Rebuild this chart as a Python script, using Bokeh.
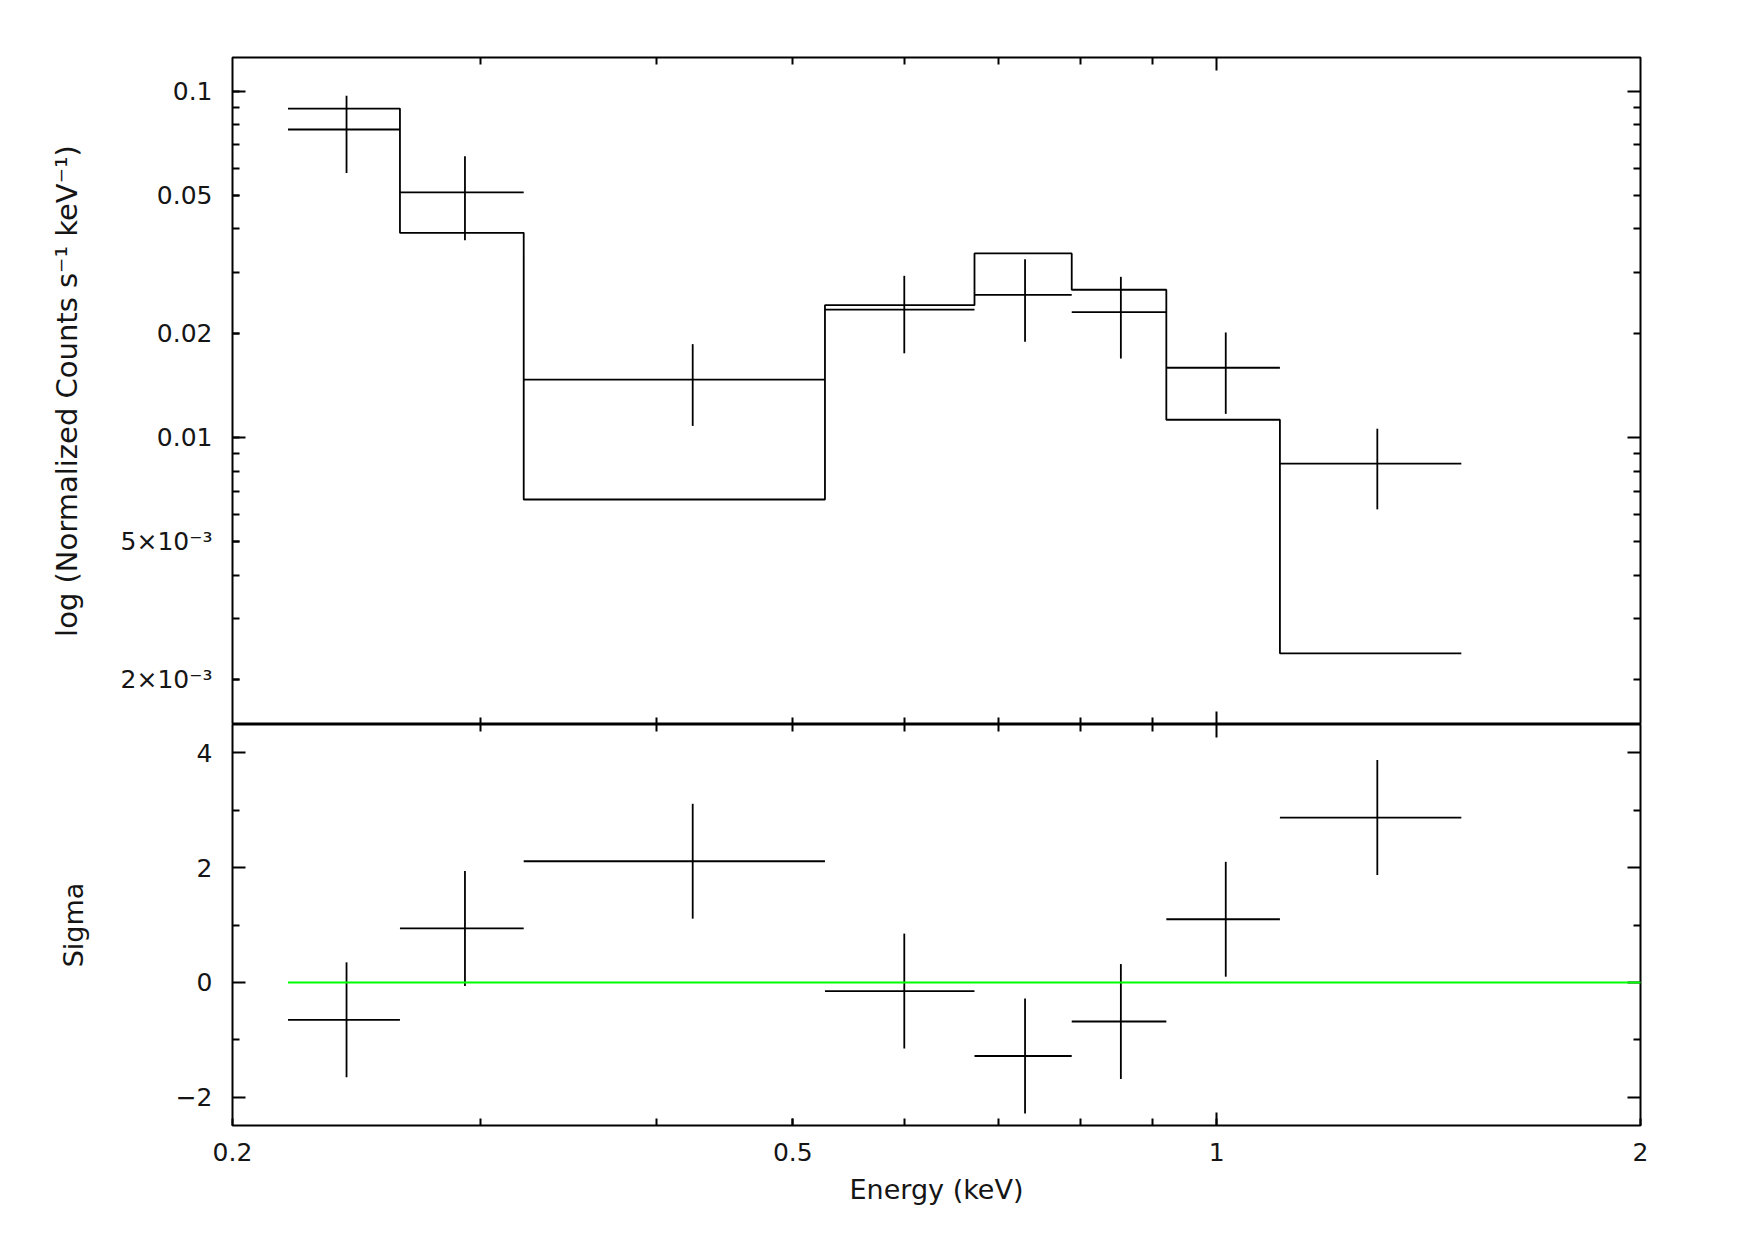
from bokeh.plotting import figure
from bokeh.models import LogAxis, LinearAxis, FixedTicker, Range1d, CustomJSTickFormatter
from bokeh.layouts import column
from bokeh.embed import file_html
from bokeh.resources import INLINE

# ---------------- data ----------------
e_lo = [0.219, 0.263, 0.322, 0.527, 0.673, 0.789, 0.921, 1.109]
e_hi = [0.263, 0.322, 0.527, 0.673, 0.789, 0.921, 1.109, 1.492]
counts = [0.0775, 0.0510, 0.0147, 0.0234, 0.0258, 0.0230, 0.0159, 0.0084]
count_err = [0.0195, 0.0139, 0.0039, 0.0059, 0.0069, 0.0061, 0.0042, 0.0022]
model = [0.0891, 0.0390, 0.00662, 0.0241, 0.0340, 0.0267, 0.01125, 0.00238]
sigma = [-0.65, 0.94, 2.11, -0.15, -1.28, -0.68, 1.10, 2.87]
sigma_err = [1.0, 1.0, 1.0, 1.0, 1.0, 1.0, 1.0, 1.0]

# tick positions / labels
x_ticks = [0.2, 0.5, 1.0, 2.0]
x_labels = ["0.2", "0.5", "1", "2"]
x_decade = [1.0]
x_minor = [0.3, 0.4, 0.5, 0.6, 0.7, 0.8, 0.9]
y_ticks = [0.002, 0.005, 0.01, 0.02, 0.05, 0.1]
y_labels = ["2×10⁻³", "5×10⁻³", "0.01", "0.02", "0.05", "0.1"]
y_decade = [0.01, 0.1]
y_minor = [0.002, 0.003, 0.004, 0.005, 0.006, 0.007, 0.008, 0.009,
           0.02, 0.03, 0.04, 0.05, 0.06, 0.07, 0.08, 0.09]
s_ticks = [-2, 0, 2, 4]
s_labels = ["−2", "0", "2", "4"]
s_minor = [-1, 1, 3]

X_MIN, X_MAX = 0.2, 2.0
Y1_MIN, Y1_MAX = 0.001483, 0.1251
Y2_MIN, Y2_MAX = -2.49, 4.49

FONT = "DejaVu Sans"
TXT = "#151515"
LONG, SHORT = 13, 7

# derived
e_mid = [(a + b) / 2 for a, b in zip(e_lo, e_hi)]
c_lo = [c - e for c, e in zip(counts, count_err)]
c_hi = [c + e for c, e in zip(counts, count_err)]
s_lo = [s - e for s, e in zip(sigma, sigma_err)]
s_hi = [s + e for s, e in zip(sigma, sigma_err)]
step_x = e_lo + [e_hi[-1]]
step_y = model + [model[-1]]


def fmt(tks=None, lbls=None):
    if tks is None:
        return CustomJSTickFormatter(code="return '';")
    return CustomJSTickFormatter(
        args=dict(tk=tks, lb=lbls),
        code="""
        for (let i = 0; i < tk.length; i++) {
            if (Math.abs(tk[i] - tick) <= 1e-6 * Math.max(1, Math.abs(tk[i]))) return lb[i];
        }
        return '';
        """)


def make_axis(cls, tks, minor, major_len, minor_len, fixed=None, labels=None):
    ax = cls(ticker=FixedTicker(ticks=tks, minor_ticks=minor))
    ax.major_tick_in = major_len
    ax.major_tick_out = 0
    ax.minor_tick_in = minor_len
    ax.minor_tick_out = 0
    ax.major_tick_line_width = 2
    ax.minor_tick_line_width = 2
    ax.major_tick_line_color = "black"
    ax.minor_tick_line_color = "black"
    ax.axis_line_color = None
    if fixed is not None:
        ax.fixed_location = fixed
    if labels is None:
        ax.formatter = fmt()
        ax.major_label_standoff = 0
    else:
        ax.formatter = fmt(tks, labels)
        ax.major_label_text_font = FONT
        ax.major_label_text_font_size = "25px"
        ax.major_label_text_color = TXT
    ax.axis_label_text_font = FONT
    ax.axis_label_text_font_size = "27px"
    ax.axis_label_text_font_style = "normal"
    ax.axis_label_text_color = TXT
    return ax


x_range = Range1d(X_MIN, X_MAX)

# ---------------- top panel ----------------
p1 = figure(width=1700, height=724, x_axis_type="log", y_axis_type="log",
            x_range=x_range, y_range=Range1d(Y1_MIN, Y1_MAX),
            x_axis_location=None, y_axis_location=None,
            min_border_left=232, min_border_right=60, min_border_top=57, min_border_bottom=0,
            output_backend="svg", toolbar_location=None)
p1.grid.visible = False
p1.outline_line_color = "black"
p1.outline_line_width = 2

ax = make_axis(LogAxis, y_ticks, y_minor, SHORT, SHORT, labels=y_labels)
ax.major_label_standoff = 20
ax.axis_label = "log (Normalized Counts s⁻¹ keV⁻¹)"
ax.axis_label_standoff = 34
ax.axis_label_text_font_size = "29px"
p1.add_layout(ax, "left")
p1.add_layout(make_axis(LogAxis, y_decade, [], LONG, SHORT, fixed=X_MIN), "left")
p1.add_layout(make_axis(LogAxis, y_decade, y_minor, LONG, SHORT, fixed=X_MAX), "right")
p1.add_layout(make_axis(LogAxis, x_decade, x_minor, LONG, SHORT, fixed=Y1_MIN), "below")
p1.add_layout(make_axis(LogAxis, x_decade, x_minor, LONG, SHORT, fixed=Y1_MAX), "above")

p1.step(x=step_x, y=step_y, mode="after", line_color="black", line_width=1.8)
p1.segment(x0=e_lo, y0=counts, x1=e_hi, y1=counts, line_color="black", line_width=1.8)
p1.segment(x0=e_mid, y0=c_lo, x1=e_mid, y1=c_hi, line_color="black", line_width=1.8)

# ---------------- bottom panel ----------------
p2 = figure(width=1700, height=501, x_axis_type="log",
            x_range=x_range, y_range=Range1d(Y2_MIN, Y2_MAX),
            x_axis_location=None, y_axis_location=None,
            min_border_left=232, min_border_right=60, min_border_top=0, min_border_bottom=100,
            output_backend="svg", toolbar_location=None)
p2.grid.visible = False
p2.outline_line_color = "black"
p2.outline_line_width = 2

ax = make_axis(LinearAxis, s_ticks, s_minor, LONG, SHORT, labels=s_labels)
ax.major_label_standoff = 20
ax.axis_label = "Sigma"
ax.axis_label_standoff = 84
p2.add_layout(ax, "left")
p2.add_layout(make_axis(LinearAxis, s_ticks, s_minor, LONG, SHORT, fixed=X_MAX), "right")

ax = make_axis(LogAxis, x_ticks, x_minor, SHORT, SHORT, labels=x_labels)
ax.major_label_standoff = 17
ax.axis_label = "Energy (keV)"
ax.axis_label_standoff = 10
p2.add_layout(ax, "below")
p2.add_layout(make_axis(LogAxis, x_decade, [], LONG, SHORT, fixed=Y2_MIN), "below")
p2.add_layout(make_axis(LogAxis, x_decade, x_minor, LONG, SHORT, fixed=Y2_MAX), "above")

p2.segment(x0=e_lo, y0=sigma, x1=e_hi, y1=sigma, line_color="black", line_width=1.8)
p2.segment(x0=e_mid, y0=s_lo, x1=e_mid, y1=s_hi, line_color="black", line_width=1.8)
p2.segment(x0=[e_lo[0]], y0=[0.0], x1=[X_MAX], y1=[0.0], line_color="#00ff00", line_width=2,
           level="overlay")

layout = column(p1, p2, spacing=0)
open("out.html", "w").write(file_html(layout, INLINE))
